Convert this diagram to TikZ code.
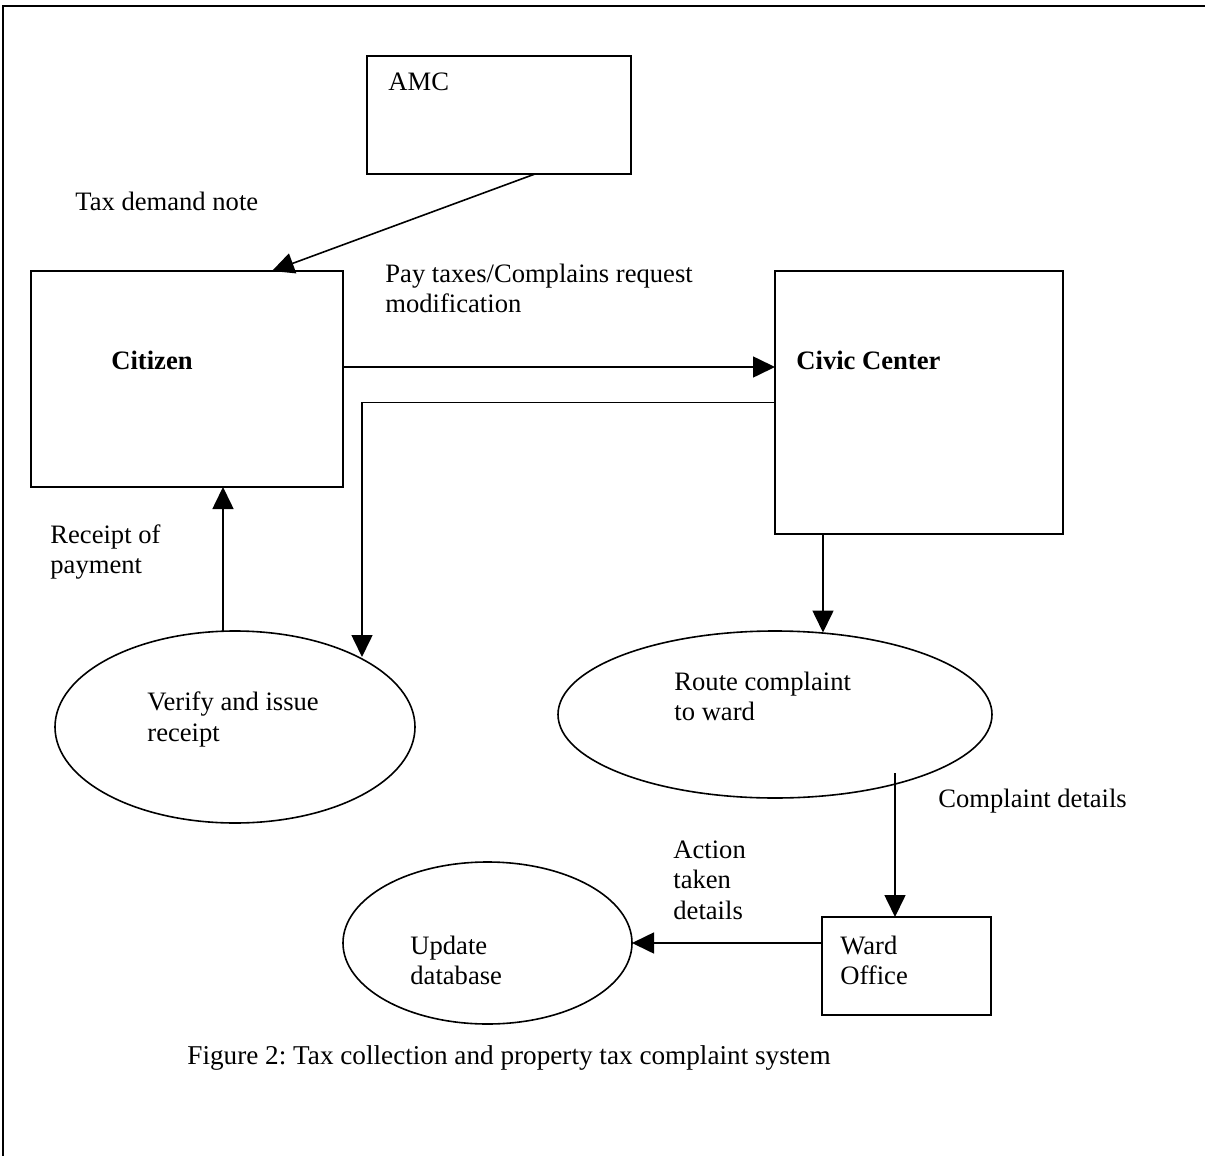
\documentclass[tikz,border=0pt]{standalone}
\usepackage{fontspec}
\setmainfont{Liberation Serif}
\usetikzlibrary{arrows.meta,calc,shapes.geometric}
\begin{document}
\frenchspacing
\begin{tikzpicture}[x=0.5pt,y=-0.5pt,
  every node/.style={font=\fontsize{13.3pt}{15.25pt}\selectfont},
  boxnode/.style={draw,line width=1.1pt,inner sep=0pt,outer sep=0pt,rectangle},
  ovalnode/.style={draw,line width=0.8pt,inner sep=0pt,outer sep=0pt,ellipse},
  txt/.style={inner sep=0pt,anchor=west,align=left},
  arr/.style={line width=0.8pt,-{Triangle[length=11pt,width=10.5pt]}},
  frame/.style={line width=1.1pt}]
\useasboundingbox (0,0) rectangle (1205,1156);
\fill[white] (0,0) rectangle (1205,1156);
% frame (top and left)
\coordinate (ftl) at (3,6);
\coordinate (ftr) at (1205,6);
\coordinate (fbl) at (3,1156);
\draw[frame] (ftr) -- (ftl) -- (fbl);
% boxes
\node[boxnode,minimum width=132pt,minimum height=59pt] (amc) at (499,115) {};
\node[boxnode,minimum width=156pt,minimum height=108pt] (citizen) at (187,379) {};
\node[boxnode,minimum width=144pt,minimum height=131.5pt] (civic) at (919,402.5) {};
\node[boxnode,minimum width=84.5pt,minimum height=49pt] (ward) at (906.5,966) {};
% ellipses
\node[ovalnode,minimum width=180pt,minimum height=96pt] (verify) at (235,727) {};
\node[ovalnode,minimum width=217pt,minimum height=83.5pt] (route) at (775,714.5) {};
\node[ovalnode,minimum width=144.5pt,minimum height=81pt] (update) at (487.5,943) {};
% texts
\node[txt] (tamc) at (388,82) {AMC};
\node[txt] (ttax) at (75,201) {Tax demand note};
\node[txt] (tpay) at (385,288.5) {Pay taxes/Complains request\\modification};
\node[inner sep=0pt,font=\fontsize{13.3pt}{15.25pt}\selectfont\bfseries] (tcit) at (152,360) {Citizen};
\node[txt,font=\fontsize{13.3pt}{15.25pt}\selectfont\bfseries] (tciv) at (796,360) {Civic Center};
\node[txt] (trec) at (50,552) {Receipt of\\payment};
\node[txt] (tver) at (147,719.5) {Verify and issue\\receipt};
\node[txt] (trou) at (674,696.5) {Route complaint\\to ward};
\node[txt] (tcom) at (938,801) {Complaint details};
\node[txt] (tact) at (673,880) {Action\\taken\\details};
\node[txt] (tupd) at (410,960.5) {Update\\database};
\node[txt] (tward) at (840,960.5) {Ward\\Office};
\node[txt,font=\fontsize{13.6pt}{15.25pt}\selectfont] (tcap) at (187,1058) {Figure 2: Tax collection and property tax complaint system};
% connectors
\draw[arr] ($(amc.south)+(36,0)$) -- ($(citizen.north)+(85,0)$);
\coordinate (cpay) at ($(citizen.east)+(0,-12)$);
\draw[arr] (cpay) -- (cpay -| civic.west);
\draw[arr] (civic.west) -| ($(verify.center)+(127,-70)$);
\coordinate (vtop) at ($(verify.north)+(-12,0)$);
\draw[arr] (vtop) -- (vtop |- citizen.south);
\coordinate (cbot) at ($(civic.south)+(-96,0)$);
\draw[arr] (cbot) -- ($(route.center)+(48,-82)$);
\coordinate (rout) at ($(route.center)+(120,58.5)$);
\draw[arr] (rout) -- (rout |- ward.north);
\coordinate (wout) at ($(ward.west)+(0,-23)$);
\draw[arr] (wout) -- (update.east);
\end{tikzpicture}
\end{document}
